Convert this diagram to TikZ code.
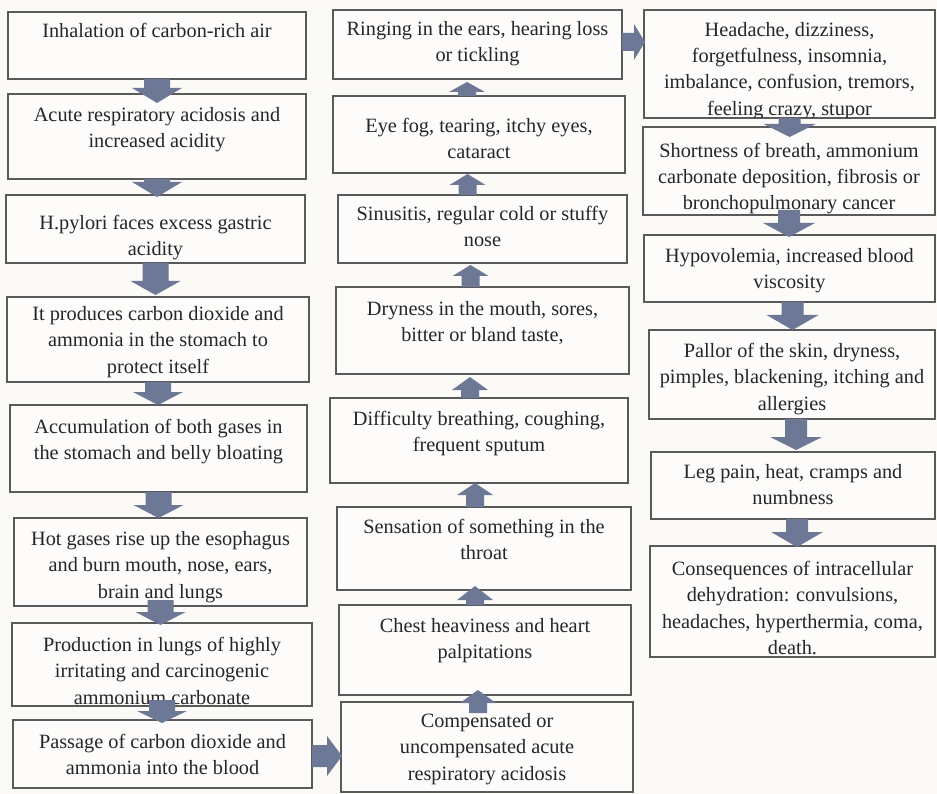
\documentclass[tikz,border=0pt]{standalone}
\usepackage{fontspec}
\setmainfont{Liberation Serif}
\usetikzlibrary{calc}
\definecolor{bg}{RGB}{252,250,246}
\definecolor{boxfill}{RGB}{253,252,250}
\definecolor{boxline}{RGB}{90,90,90}
\definecolor{arrc}{RGB}{108,120,150}
\definecolor{txtc}{RGB}{38,38,38}
\tikzset{
  box/.style={draw=boxline, line width=1.2pt, fill=boxfill, inner sep=0pt, outer sep=0pt, anchor=north west},
  txt/.style={text=txtc, font=\fontsize{20.3}{26.4}\selectfont, align=center, inner sep=0pt, anchor=north},
  arrowshape/.style={fill=arrc}
}
\newcommand{\bx}[5]{\node[box, minimum width={(#4-#2)*1pt}, minimum height={(#5-#3)*1pt}] (#1) at (#2,#3) {};}
\newcommand{\tx}[3]{\node[txt] (#1t) at ([yshift={-(#2-20)*1pt}]#1.north) {\rule{0pt}{20pt}#3};}
\newcommand{\darr}[5]{\fill[arrowshape] let \p1=#1, \p2=#2 in
  (\x1-#3pt,\y1) -- (\x1-#3pt,\y2+#5pt) -- (\x1-#4pt,\y2+#5pt) -- (\x1,\y2) -- (\x1+#4pt,\y2+#5pt) -- (\x1+#3pt,\y2+#5pt) -- (\x1+#3pt,\y1) -- cycle;}
\newcommand{\uarr}[5]{\fill[arrowshape] let \p1=#1, \p2=#2 in
  (\x1-#3pt,\y1) -- (\x1-#3pt,\y2-#5pt) -- (\x1-#4pt,\y2-#5pt) -- (\x1,\y2) -- (\x1+#4pt,\y2-#5pt) -- (\x1+#3pt,\y2-#5pt) -- (\x1+#3pt,\y1) -- cycle;}
\newcommand{\rarr}[5]{\fill[arrowshape] let \p1=#1, \p2=#2 in
  (\x1,\y1-#3pt) -- (\x2-#5pt,\y1-#3pt) -- (\x2-#5pt,\y1-#4pt) -- (\x2,\y1) -- (\x2-#5pt,\y1+#4pt) -- (\x2-#5pt,\y1+#3pt) -- (\x1,\y1+#3pt) -- cycle;}
\begin{document}
\begin{tikzpicture}[x=1pt,y=-1pt]
\fill[bg] (0,0) rectangle (937,794);
\useasboundingbox (0,0) rectangle (937,794);
% column 1
\bx{c1a}{8}{12}{306}{79}
\bx{c1b}{8}{94}{306}{179}
\bx{c1c}{6}{195}{305}{263}
\bx{c1d}{7}{297}{309}{382}
\bx{c1e}{10}{405}{307}{492}
\bx{c1f}{14}{518}{307}{606}
\bx{c1g}{12}{623}{312}{706}
\bx{c1h}{13}{720}{312}{788}
% column 2
\bx{c2a}{333}{10}{622}{79}
\bx{c2b}{333}{96}{625}{173}
\bx{c2c}{338}{195}{627}{263}
\bx{c2d}{336}{287}{629}{374}
\bx{c2e}{330}{398}{628}{483}
\bx{c2f}{337}{507}{631}{590}
\bx{c2g}{339}{605}{631}{695}
\bx{c2h}{341}{702}{633}{792}
% column 3
\bx{c3a}{644}{10}{935}{118}
\bx{c3b}{643}{127}{935}{215}
\bx{c3c}{644}{235}{935}{302}
\bx{c3d}{649}{330}{935}{419}
\bx{c3e}{651}{452}{935}{519}
\bx{c3f}{650}{546}{935}{657}
% texts
\tx{c1a}{25}{Inhalation of carbon-rich air}
\tx{c1b}{27}{Acute respiratory acidosis and\\increased acidity}
\tx{c1c}{34}{H.pylori faces excess gastric\\acidity}
\tx{c1d}{23}{It produces carbon dioxide and\\ammonia in the stomach to\\protect itself}
\tx{c1e}{28}{Accumulation of both gases in\\the stomach and belly bloating}
\tx{c1f}{27}{Hot gases rise up the esophagus\\and burn mouth, nose, ears,\\brain and lungs}
\tx{c1g}{28}{Production in lungs of highly\\irritating and carcinogenic\\ammonium carbonate}
\tx{c1h}{28}{Passage of carbon dioxide and\\ammonia into the blood}
\tx{c2a}{25}{Ringing in the ears, hearing loss\\or tickling}
\tx{c2b}{36}{Eye fog, tearing, itchy eyes,\\cataract}
\tx{c2c}{25}{Sinusitis, regular cold or stuffy\\nose}
\tx{c2d}{28}{Dryness in the mouth, sores,\\bitter or bland taste,}
\tx{c2e}{27}{Difficulty breathing, coughing,\\frequent sputum}
\tx{c2f}{26}{Sensation of something in the\\throat}
\tx{c2g}{27}{Chest heaviness and heart\\palpitations}
\tx{c2h}{25}{Compensated or\\uncompensated acute\\respiratory acidosis}
\begin{scope}
\clip (c3a.north west) rectangle (c3a.south east);
\tx{c3a}{26}{Headache, dizziness,\\forgetfulness, insomnia,\\imbalance, confusion, tremors,\\feeling crazy, stupor}
\end{scope}
\tx{c3b}{30}{Shortness of breath, ammonium\\carbonate deposition, fibrosis or\\bronchopulmonary cancer}
\tx{c3c}{27}{Hypovolemia, increased blood\\viscosity}
\tx{c3d}{27}{Pallor of the skin, dryness,\\pimples, blackening, itching and\\allergies}
\tx{c3e}{26}{Leg pain, heat, cramps and\\numbness}
\tx{c3f}{29}{Consequences of intracellular\\dehydration: convulsions,\\headaches, hyperthermia, coma,\\death.}
% arrows column 1
\darr{(c1a.south)}{([yshift=-9pt]c1b.north)}{13}{25}{15}
\darr{(c1b.south)}{([yshift=-2pt]c1c.north)}{13}{25}{15}
\darr{(c1c.south)}{([yshift=2pt]c1d.north)}{13}{25}{14}
\darr{(c1d.south)}{(c1e.north)}{13}{25}{13}
\darr{(c1e.south)}{(c1f.north)}{13}{25}{13}
\darr{([yshift=6pt]c1f.south)}{([yshift=-2pt]c1g.north)}{13}{25}{13}
\darr{([yshift=6pt]c1g.south)}{([yshift=-3pt]c1h.north)}{13}{25}{12}
% arrows column 2
\uarr{([xshift=-9pt,yshift=-11pt]c2h.north)}{([yshift=5pt]c2g.south)}{9}{18}{13}
\uarr{([xshift=-10pt]c2g.north)}{([yshift=4pt]c2f.south)}{9}{18}{14}
\uarr{([xshift=-9pt]c2f.north)}{(c2e.south)}{9}{18}{12}
\uarr{([xshift=-9pt]c2e.north)}{([yshift=-3pt]c2d.south)}{9}{18}{13}
\uarr{([xshift=-12pt]c2d.north)}{([yshift=-2pt]c2c.south)}{9}{18}{11}
\uarr{([xshift=-15pt]c2c.north)}{([yshift=-1pt]c2b.south)}{9}{18}{11}
\uarr{([xshift=-12pt]c2b.north)}{([yshift=-3pt]c2a.south)}{9}{18}{10}
% arrows column 3
\darr{(c3a.south)}{([yshift=-10pt]c3b.north)}{11}{26}{13}
\darr{([yshift=5pt]c3b.south)}{([yshift=-2pt]c3c.north)}{11}{26}{14}
\darr{([xshift=3pt]c3c.south)}{(c3d.north)}{11}{26}{15}
\darr{([xshift=4pt]c3d.south)}{([yshift=2pt]c3e.north)}{11}{26}{13}
\darr{([xshift=4pt]c3e.south)}{([yshift=-1pt]c3f.north)}{11}{26}{15}
% horizontal arrows
\rarr{([yshift=-2pt]c1h.east)}{([xshift=1pt]c2h.west)}{11}{20}{15}
\rarr{([yshift=2.5pt]c2a.east)}{([xshift=1pt]c3a.west)}{9}{18}{11}
\end{tikzpicture}
\end{document}
